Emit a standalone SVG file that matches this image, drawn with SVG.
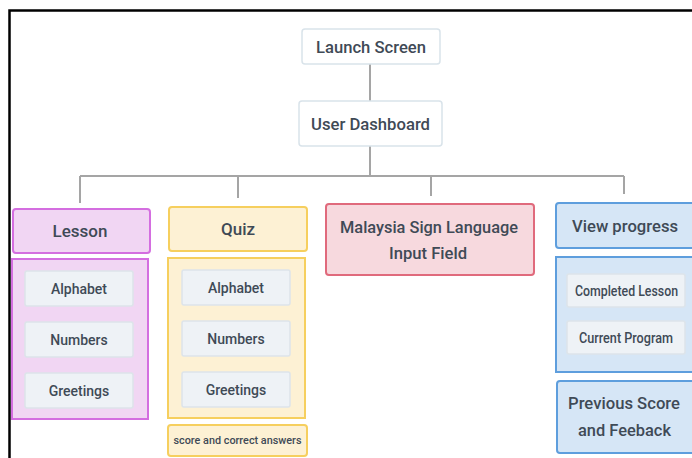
<svg xmlns="http://www.w3.org/2000/svg" width="692" height="458" viewBox="0 0 692 458">
<style>
text{font-family:Roboto,"Liberation Sans",sans-serif;font-weight:500;fill:#3f4a56;text-anchor:middle;dominant-baseline:central}
.top{fill:#ffffff;stroke:#d9e3ea;stroke-width:1.5}
.item{fill:#eef2f6;stroke:#dde4ea;stroke-width:1.5}
.pink{fill:#f1d6f3;stroke:#d46ee0;stroke-width:2}
.yel{fill:#fdf1d4;stroke:#f6cf5e;stroke-width:2}
.red{fill:#f7d9de;stroke:#e06a7c;stroke-width:2}
.blue{fill:#d6e6f6;stroke:#5e9edd;stroke-width:2}
.h{font-size:17px}
.s{font-size:14px}
.xs{font-size:11px}
.c{fill:none;stroke:#a5a5a5;stroke-width:2}
</style>
<rect x="0" y="0" width="692" height="458" fill="#ffffff"/>
<path d="M9.5 460V10.5H700" fill="none" stroke="#000" stroke-width="2.5"/>
<g id="connectors">
<path class="c" d="M370 64V101M370 146V176M80 176H624M80 176V203M238 176V198M431 176V196M624 176V194"/>
</g>
<g id="launch"><rect class="top" x="302" y="29" width="138" height="35" rx="3"/><text class="h" x="371" y="46.5" textLength="110" lengthAdjust="spacingAndGlyphs">Launch Screen</text></g>
<g id="dashboard"><rect class="top" x="299" y="101" width="143" height="45" rx="3"/><text class="h" x="370.5" y="123.5" textLength="119" lengthAdjust="spacingAndGlyphs">User Dashboard</text></g>
<g id="lesson"><rect class="pink" x="13" y="209" width="137" height="44" rx="3"/><text class="h" x="80" y="231" font-size="18">Lesson</text></g>
<g id="lesson-items"><rect class="pink" x="12" y="259" width="136" height="160"/>
<g id="lesson-alphabet"><rect class="item" x="25" y="271" width="108" height="35" rx="2"/><text class="s" x="79" y="288.5">Alphabet</text></g>
<g id="lesson-numbers"><rect class="item" x="25" y="322" width="108" height="35" rx="2"/><text class="s" x="79" y="339.5">Numbers</text></g>
<g id="lesson-greetings"><rect class="item" x="25" y="373" width="108" height="35" rx="2"/><text class="s" x="79" y="390.5">Greetings</text></g>
</g>
<g id="quiz"><rect class="yel" x="169" y="207" width="138" height="44" rx="3"/><text class="h" x="238" y="229" font-size="18">Quiz</text></g>
<g id="quiz-items"><rect class="yel" x="168" y="258" width="137" height="160"/>
<g id="quiz-alphabet"><rect class="item" x="182" y="270" width="108" height="35" rx="2"/><text class="s" x="236" y="287.5">Alphabet</text></g>
<g id="quiz-numbers"><rect class="item" x="182" y="321" width="108" height="35" rx="2"/><text class="s" x="236" y="338.5">Numbers</text></g>
<g id="quiz-greetings"><rect class="item" x="182" y="372" width="108" height="35" rx="2"/><text class="s" x="236" y="389.5">Greetings</text></g>
</g>
<g id="quiz-score"><rect class="yel" x="168" y="425" width="139" height="31" rx="3"/><text class="xs" x="237.5" y="440.5" textLength="128" lengthAdjust="spacingAndGlyphs">score and correct answers</text></g>
<g id="msl"><rect class="red" x="326" y="204" width="208" height="71" rx="3"/><text class="h" x="429" y="227" textLength="178" lengthAdjust="spacingAndGlyphs">Malaysia Sign Language</text><text class="h" x="428" y="253" textLength="78" lengthAdjust="spacingAndGlyphs">Input Field</text></g>
<g id="progress"><rect class="blue" x="556" y="203" width="140" height="45" rx="3"/><text class="h" x="625" y="225.5" textLength="106" lengthAdjust="spacingAndGlyphs">View progress</text></g>
<g id="progress-items"><rect class="blue" x="556" y="257" width="140" height="115"/>
<g id="completed"><rect class="item" x="567" y="274" width="118" height="33" rx="2"/><text class="s" x="626.5" y="290.5" font-size="13" textLength="103" lengthAdjust="spacingAndGlyphs">Completed Lesson</text></g>
<g id="current"><rect class="item" x="567" y="321" width="118" height="33" rx="2"/><text class="s" x="626" y="337.5" font-size="13" textLength="94" lengthAdjust="spacingAndGlyphs">Current Program</text></g>
</g>
<g id="previous"><rect class="blue" x="557" y="381" width="139" height="72" rx="3"/><text class="h" x="624" y="403" font-size="18" textLength="112" lengthAdjust="spacingAndGlyphs">Previous Score</text><text class="h" x="624.5" y="430" font-size="18" textLength="93" lengthAdjust="spacingAndGlyphs">and Feeback</text></g>
</svg>
